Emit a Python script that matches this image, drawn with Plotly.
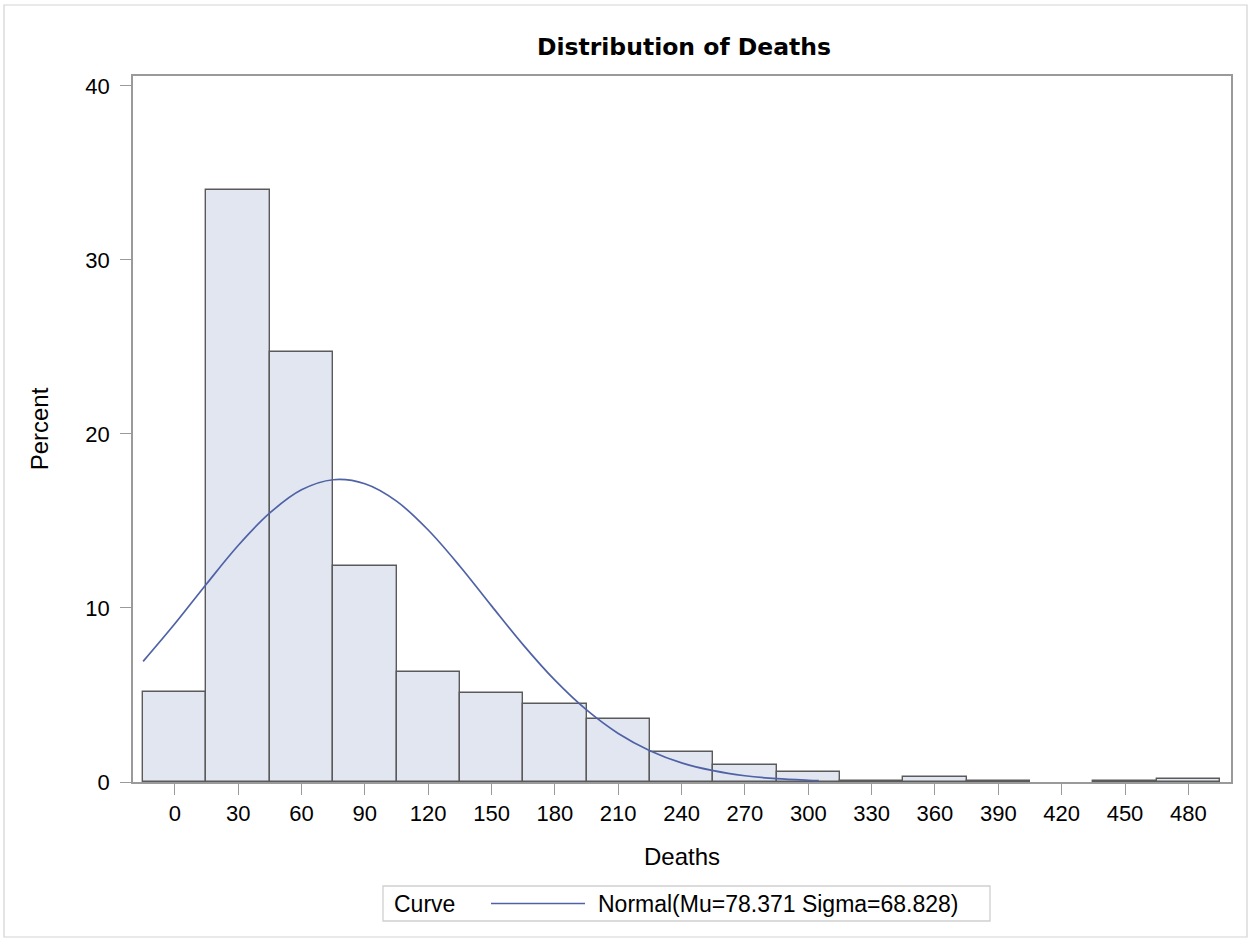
import plotly.graph_objects as go

# Histogram bins (midpoints) and percents
bin_mid = [0, 30, 60, 90, 120, 150, 180, 210, 240, 270, 300, 330, 360, 390, 420, 450, 480]
percent = [5.2, 34.0, 24.7, 12.4, 6.3, 5.1, 4.5, 3.6, 1.7, 1.0, 0.55, 0.08, 0.3, 0.08, 0.0, 0.08, 0.2]

# Fitted normal curve points
curve_x = [-15, 0, 15, 30, 45, 60, 75, 90, 105, 120, 135, 150, 165, 180, 195, 210, 225, 240, 255, 270, 285, 300, 305]
curve_y = [6.93, 9.09, 11.38, 13.59, 15.46, 16.79, 17.37, 17.14, 16.14, 14.48, 12.40, 10.12, 7.88, 5.85, 4.14, 2.79,
           1.80, 1.10, 0.65, 0.36, 0.19, 0.10, 0.08]

x_ticks = [0, 30, 60, 90, 120, 150, 180, 210, 240, 270, 300, 330, 360, 390, 420, 450, 480]
y_ticks = [0, 10, 20, 30, 40]

title_text = "Distribution of Deaths"
x_title = "Deaths"
y_title = "Percent"
legend_title = "Curve"
curve_name = "Normal(Mu=78.371 Sigma=68.828)"

FONT = "Liberation Sans, Arial, sans-serif"
TFONT = "DejaVu Sans, Verdana, sans-serif"
CURVE_COLOR = "#4f62a6"
W, H = 1251, 941
L, R, T, B = 133, 20, 76, 159

pw = W - L - R
ph = H - T - B
def px2x(p):
    return (p - L) / pw
def py2y(p):
    return 1 - (p - T) / ph

bar_line_colors = ["#5a5a5a" if v > 0 else "rgba(0,0,0,0)" for v in percent]

fig = go.Figure()
fig.add_trace(go.Bar(
    x=bin_mid, y=percent, width=30,
    marker=dict(color="#e1e6f0", line=dict(color=bar_line_colors, width=1.4)),
    showlegend=False, hoverinfo="x+y",
))
fig.add_trace(go.Scatter(
    x=curve_x, y=curve_y, mode="lines", name=curve_name, showlegend=False,
    line=dict(color=CURVE_COLOR, width=1.7, shape="spline"),
))

# outer frame
fig.add_shape(type="rect", xref="paper", yref="paper",
              x0=px2x(4), x1=px2x(1247), y0=py2y(937), y1=py2y(5),
              line=dict(color="#d3d3d3", width=1.2), fillcolor="rgba(0,0,0,0)", layer="below")

# legend box (drawn)
ly = 903.5
fig.add_shape(type="rect", xref="paper", yref="paper",
              x0=px2x(383), x1=px2x(990), y0=py2y(921), y1=py2y(886),
              line=dict(color="#cfcfcf", width=1.3), fillcolor="white")
fig.add_shape(type="line", xref="paper", yref="paper",
              x0=px2x(491), x1=px2x(585), y0=py2y(ly), y1=py2y(ly),
              line=dict(color=CURVE_COLOR, width=1.7))
fig.add_annotation(text=legend_title, xref="paper", yref="paper", x=px2x(392), y=py2y(ly),
                   xanchor="left", yanchor="middle", showarrow=False,
                   font=dict(family=FONT, size=23, color="#000000"))
fig.add_annotation(text=curve_name, xref="paper", yref="paper", x=px2x(596), y=py2y(ly),
                   xanchor="left", yanchor="middle", showarrow=False,
                   font=dict(family=FONT, size=23, color="#000000"))

fig.update_layout(
    width=W, height=H,
    margin=dict(l=L, r=R, t=T, b=B, autoexpand=False),
    paper_bgcolor="white", plot_bgcolor="white",
    font=dict(family=FONT, size=22, color="#000000"),
    title=dict(text="<b>" + title_text + "</b>", x=684 / W, xanchor="center",
               y=1 - 47 / H, yanchor="middle", font=dict(size=23.5, family=TFONT, color="#000000")),
    bargap=0,
    xaxis=dict(range=[-19.8, 500.2], tickvals=x_ticks, ticktext=[str(v) for v in x_ticks],
               ticks="outside", ticklen=11, tickcolor="#9a9a9a", tickwidth=1.3,
               showline=True, linecolor="#9a9a9a",
               linewidth=1.5, mirror=True, showgrid=False, zeroline=False,
               title=dict(text=x_title, font=dict(size=24), standoff=23),
               tickfont=dict(size=22, color="#000000")),
    yaxis=dict(range=[0, 40.57], tickvals=y_ticks, ticks="outside", ticklen=11, tickcolor="#9a9a9a",
               tickwidth=1.3, ticklabelstandoff=6,
               showline=True, linecolor="#9a9a9a", linewidth=1.5, mirror=True, showgrid=False,
               zeroline=False, title=dict(text=y_title, font=dict(size=24), standoff=30),
               tickfont=dict(size=22, color="#000000")),
    showlegend=False,
)

fig.write_html("out.html", config={"displayModeBar": False},
               post_script="document.body.style.margin='0px';")
